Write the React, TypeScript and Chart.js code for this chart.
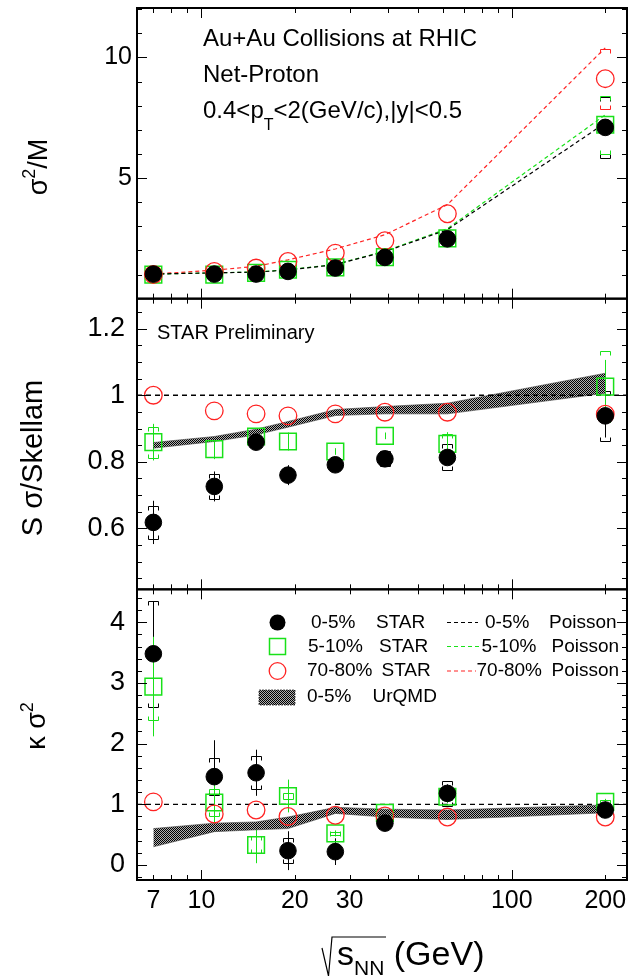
import React, { useEffect, useRef } from 'react';
import { Chart, registerables } from 'chart.js';

Chart.register(...registerables);

const FONT = '"Liberation Sans", Arial, Helvetica, sans-serif';
const BLACK = '#000000';
const GREEN = 'rgb(25,225,25)';
const RED = 'rgb(255,35,35)';

// ---------- x axis (sqrt(s_NN), GeV) ----------
const energies = [7, 11, 15, 19, 27, 39, 62, 200];
const xMin = 6.2;
const xMax = 235;
const xTickMarks = [7, 8, 9, 10, 20, 30, 40, 50, 60, 70, 80, 90, 100, 200];
const xMajorMarks = [10, 100];
const xTickLabels = [7, 10, 20, 30, 100, 200];

// ---------- panel 1 : sigma^2/M ----------
const y1Min = 0;
const y1Max = 12.05;
const y1TickMarks = [1, 2, 3, 4, 5, 6, 7, 8, 9, 10, 11, 12];
const y1TickLabels = [5, 10];
const varM_0_5 = [1.02, 1.02, 1.02, 1.13, 1.27, 1.71, 2.48, 7.1];
const varM_5_10 = [1.0, 1.0, 1.07, 1.2, 1.3, 1.72, 2.5, 7.21];
const varM_70_80 = [1.0, 1.13, 1.27, 1.54, 1.89, 2.4, 3.52, 9.12];
const varM_0_5_sys = [0, 0, 0, 0, 0, 0, 0, 1.27];
const varM_5_10_sys = [0, 0, 0, 0, 0, 0, 0, 1.2];
const varM_70_80_sys = [0, 0, 0, 0, 0, 0, 0, 1.25];
const poissonM_0_5 = [1.02, 1.07, 1.1, 1.19, 1.41, 1.95, 2.86, 7.28];
const poissonM_5_10 = [1.02, 1.07, 1.11, 1.2, 1.42, 1.97, 2.9, 7.62];
const poissonM_70_80 = [1.02, 1.18, 1.34, 1.61, 2.06, 2.65, 3.9, 10.4];

// ---------- panel 2 : S sigma / Skellam ----------
const y2Min = 0.417;
const y2Max = 1.29;
const y2TickMarks = [0.45, 0.5, 0.55, 0.6, 0.65, 0.7, 0.75, 0.8, 0.85, 0.9, 0.95, 1, 1.05, 1.1, 1.15, 1.2, 1.25];
const y2TickLabels = [0.6, 0.8, 1, 1.2];
const skellamRef = 1;
const sS_0_5 = [0.618, 0.726, 0.859, 0.76, 0.791, 0.809, 0.813, 0.938];
const sS_0_5_stat = [0.065, 0.045, 0.022, 0.03, 0.012, 0.012, 0.015, 0.065];
const sS_0_5_sys = [0.05, 0.037, 0.015, 0.01, 0.01, 0.022, 0.039, 0.075];
const sS_5_10 = [0.859, 0.838, 0.876, 0.861, 0.831, 0.878, 0.854, 1.026];
const sS_5_10_stat = [0.055, 0.03, 0.024, 0.027, 0.01, 0.01, 0.035, 0.08];
const sS_5_10_sys = [0.047, 0, 0.02, 0, 0, 0, 0.03, 0.107];
const sS_70_80 = [1.0, 0.953, 0.944, 0.938, 0.944, 0.949, 0.949, 0.943];
const urqmdS_low = [0.841, 0.861, 0.881, 0.904, 0.939, 0.944, 0.944, 1.006];
const urqmdS_high = [0.858, 0.876, 0.898, 0.921, 0.957, 0.966, 0.976, 1.066];

// ---------- panel 3 : kappa sigma^2 ----------
const y3Min = -0.247;
const y3Max = 4.542;
const y3TickMarks = [-0.2, 0, 0.2, 0.4, 0.6, 0.8, 1, 1.2, 1.4, 1.6, 1.8, 2, 2.2, 2.4, 2.6, 2.8, 3, 3.2, 3.4, 3.6, 3.8, 4, 4.2, 4.4];
const y3TickLabels = [0, 1, 2, 3, 4];
const poissonRef = 1;
const kS_0_5 = [3.48, 1.456, 1.52, 0.236, 0.22, 0.69, 1.18, 0.906];
const kS_0_5_stat = [0.87, 0.6, 0.38, 0.32, 0.22, 0.08, 0.15, 0.05];
const kS_0_5_sys = [0.87, 0.3, 0.27, 0.21, 0.05, 0.05, 0.2, 0.05];
const kS_5_10 = [2.94, 1.03, 0.33, 1.137, 0.52, 0.86, 1.125, 1.04];
const kS_5_10_stat = [0.82, 0.48, 0.3, 0.27, 0.05, 0.05, 0.1, 0.05];
const kS_5_10_sys = [0.55, 0.23, 0.14, 0.05, 0.03, 0.03, 0.05, 0.03];
const kS_70_80 = [1.04, 0.84, 0.906, 0.8, 0.82, 0.81, 0.79, 0.79];
const urqmdK_low = [0.3, 0.55, 0.58, 0.6, 0.85, 0.79, 0.75, 0.86];
const urqmdK_high = [0.6, 0.69, 0.71, 0.79, 0.95, 0.92, 0.906, 0.99];

const pts = (ys: number[]) => energies.map((x, i) => ({ x, y: ys[i] }));

type Part = { t: string; size: number; rise?: number };

function drawRich(ctx: CanvasRenderingContext2D, parts: Part[], x: number, y: number, rotate: boolean, align: 'left' | 'center') {
  ctx.save();
  ctx.translate(x, y);
  if (rotate) ctx.rotate(-Math.PI / 2);
  ctx.textAlign = 'left';
  ctx.textBaseline = 'alphabetic';
  ctx.fillStyle = BLACK;
  let total = 0;
  for (const p of parts) {
    ctx.font = `${p.size}px ${FONT}`;
    total += ctx.measureText(p.t).width;
  }
  let cx = align === 'center' ? -total / 2 : 0;
  for (const p of parts) {
    ctx.font = `${p.size}px ${FONT}`;
    ctx.fillText(p.t, cx, -(p.rise || 0));
    cx += ctx.measureText(p.t).width;
  }
  ctx.restore();
}

export default function App() {
  const ref = useRef<HTMLCanvasElement>(null);

  useEffect(() => {
    document.body.style.margin = '0';
    const canvas = ref.current!;

    // hatch pattern for UrQMD band
    const pc = document.createElement('canvas');
    pc.width = 2;
    pc.height = 2;
    const pg = pc.getContext('2d')!;
    pg.fillStyle = '#b0b0b0';
    pg.fillRect(0, 0, 2, 2);
    pg.fillStyle = '#000000';
    pg.fillRect(0, 0, 1, 1);
    pg.fillRect(1, 1, 1, 1);
    const pattern = canvas.getContext('2d')!.createPattern(pc, 'repeat')!;

    const errorSets = [
      { axis: 'y1', v: varM_0_5, stat: null, sys: varM_0_5_sys, color: BLACK },
      { axis: 'y1', v: varM_5_10, stat: null, sys: varM_5_10_sys, color: GREEN },
      { axis: 'y1', v: varM_70_80, stat: null, sys: varM_70_80_sys, color: RED },
      { axis: 'y2', v: sS_0_5, stat: sS_0_5_stat, sys: sS_0_5_sys, color: BLACK },
      { axis: 'y2', v: sS_5_10, stat: sS_5_10_stat, sys: sS_5_10_sys, color: GREEN },
      { axis: 'y3', v: kS_0_5, stat: kS_0_5_stat, sys: kS_0_5_sys, color: BLACK },
      { axis: 'y3', v: kS_5_10, stat: kS_5_10_stat, sys: kS_5_10_sys, color: GREEN },
    ];

    const panels = [
      { id: 'y1', marks: y1TickMarks, major: y1TickLabels },
      { id: 'y2', marks: y2TickMarks, major: y2TickLabels },
      { id: 'y3', marks: y3TickMarks, major: y3TickLabels },
    ];

    const decor = {
      id: 'decor',
      beforeDatasetsDraw(chart: any) {
        const ctx: CanvasRenderingContext2D = chart.ctx;
        const xs = chart.scales.x;
        ctx.save();
        ctx.lineWidth = 1;
        for (const es of errorSets) {
          const ys = chart.scales[es.axis];
          es.v.forEach((val: number, i: number) => {
            const px = Math.round(xs.getPixelForValue(energies[i])) + 0.5;
            ctx.strokeStyle = es.color;
            if (es.stat && es.stat[i] > 0) {
              ctx.beginPath();
              ctx.moveTo(px, ys.getPixelForValue(val + es.stat[i]));
              ctx.lineTo(px, ys.getPixelForValue(val - es.stat[i]));
              ctx.stroke();
            }
            if (es.sys && es.sys[i] > 0) {
              const top = Math.round(ys.getPixelForValue(val + es.sys[i])) + 0.5;
              const bot = Math.round(ys.getPixelForValue(val - es.sys[i])) + 0.5;
              const hw = 5;
              const d = 4;
              ctx.beginPath();
              ctx.moveTo(px - hw, top + d);
              ctx.lineTo(px - hw, top);
              ctx.lineTo(px + hw, top);
              ctx.lineTo(px + hw, top + d);
              ctx.moveTo(px - hw, bot - d);
              ctx.lineTo(px - hw, bot);
              ctx.lineTo(px + hw, bot);
              ctx.lineTo(px + hw, bot - d);
              ctx.stroke();
            }
          });
        }
        ctx.restore();
      },
      afterDraw(chart: any) {
        const ctx: CanvasRenderingContext2D = chart.ctx;
        const area = chart.chartArea;
        const xs = chart.scales.x;
        ctx.save();
        // ticks
        ctx.strokeStyle = BLACK;
        ctx.lineWidth = 1;
        for (const p of panels) {
          const s = chart.scales[p.id];
          ctx.beginPath();
          for (const v of p.marks) {
            const py = Math.round(s.getPixelForValue(v)) + 0.5;
            const len = p.major.includes(v) ? 10 : 5;
            ctx.moveTo(area.left, py);
            ctx.lineTo(area.left + len, py);
            ctx.moveTo(area.right, py);
            ctx.lineTo(area.right - len, py);
          }
          for (const v of xTickMarks) {
            const px = Math.round(xs.getPixelForValue(v)) + 0.5;
            const len = xMajorMarks.includes(v) ? 10 : 5;
            ctx.moveTo(px, s.top);
            ctx.lineTo(px, s.top + len);
            ctx.moveTo(px, s.bottom);
            ctx.lineTo(px, s.bottom - len);
          }
          ctx.stroke();
        }
        // frames
        ctx.lineWidth = 2;
        for (const p of panels) {
          const s = chart.scales[p.id];
          ctx.strokeRect(area.left, s.top, area.right - area.left, s.bottom - s.top);
        }
        ctx.restore();

        // axis titles
        drawRich(ctx, [{ t: 'σ', size: 27 }, { t: '2', size: 18, rise: 12 }, { t: '/M', size: 27 }], 47, 167, true, 'center');
        drawRich(ctx, [{ t: 'S σ/Skellam', size: 29 }], 42, 458, true, 'center');
        drawRich(ctx, [{ t: 'κ σ', size: 27 }, { t: '2', size: 18, rise: 12 }], 45, 726, true, 'center');

        // x title with radical
        ctx.save();
        ctx.strokeStyle = BLACK;
        ctx.lineWidth = 1.2;
        ctx.beginPath();
        ctx.moveTo(322, 948);
        ctx.lineTo(328.5, 976);
        ctx.lineTo(332, 937);
        ctx.lineTo(386, 937);
        ctx.stroke();
        ctx.restore();
        drawRich(ctx, [{ t: 's', size: 34 }, { t: 'NN', size: 21, rise: -10 }, { t: ' (GeV)', size: 34 }], 337, 965, false, 'left');

        // annotations in top panels
        drawRich(ctx, [{ t: 'Au+Au Collisions at RHIC', size: 24 }], 203, 46, false, 'left');
        drawRich(ctx, [{ t: 'Net-Proton', size: 24 }], 203, 82, false, 'left');
        drawRich(ctx, [{ t: '0.4<p', size: 24 }, { t: 'T', size: 16, rise: -12 }, { t: '<2(GeV/c),|y|<0.5', size: 24 }], 203, 118, false, 'left');
        drawRich(ctx, [{ t: 'STAR Preliminary', size: 20 }], 157, 339, false, 'left');

        // legend
        ctx.save();
        ctx.font = `19px ${FONT}`;
        ctx.textBaseline = 'middle';
        ctx.textAlign = 'left';
        ctx.fillStyle = BLACK;
        const mx = 277.5;
        // row 1
        ctx.beginPath();
        ctx.arc(mx, 622.5, 8, 0, Math.PI * 2);
        ctx.fill();
        ctx.fillText('0-5%', 311, 623);
        ctx.fillText('STAR', 376, 623);
        ctx.fillText('0-5%', 485, 623);
        ctx.fillText('Poisson', 549, 623);
        // row 2
        ctx.strokeStyle = GREEN;
        ctx.lineWidth = 1.5;
        ctx.strokeRect(mx - 8, 646.5 - 8, 16, 16);
        ctx.fillText('5-10%', 308, 646.5);
        ctx.fillText('STAR', 379, 646.5);
        ctx.fillText('5-10%', 481.5, 646.5);
        ctx.fillText('Poisson', 551.5, 646.5);
        // row 3
        ctx.strokeStyle = RED;
        ctx.lineWidth = 1.3;
        ctx.beginPath();
        ctx.arc(mx, 671, 8.3, 0, Math.PI * 2);
        ctx.stroke();
        ctx.fillText('70-80%', 307, 671);
        ctx.fillText('STAR', 381.5, 671);
        ctx.fillText('70-80%', 476.5, 671);
        ctx.fillText('Poisson', 551.5, 671);
        // row 4
        ctx.fillStyle = pattern;
        ctx.fillRect(259, 690, 36, 15);
        ctx.strokeStyle = '#333';
        ctx.lineWidth = 0.8;
        ctx.setLineDash([2, 1]);
        ctx.strokeRect(259, 690, 36, 15);
        ctx.setLineDash([]);
        ctx.fillStyle = BLACK;
        ctx.fillText('0-5%', 307, 697);
        ctx.fillText('UrQMD', 372.5, 697);
        // dashed samples
        const dashRow = (y: number, c: string, x2: number) => {
          ctx.strokeStyle = c;
          ctx.lineWidth = 1.2;
          ctx.setLineDash([4, 3]);
          ctx.beginPath();
          ctx.moveTo(447, y);
          ctx.lineTo(x2, y);
          ctx.stroke();
        };
        dashRow(622.5, BLACK, 478);
        dashRow(646.5, GREEN, 481);
        dashRow(671, RED, 476);
        ctx.restore();
      },
    };

    const marker = (axis: string, ys: number[], kind: string) => {
      if (kind === 'black') {
        return { data: pts(ys), yAxisID: axis, showLine: false, pointStyle: 'circle', pointRadius: 8.3, pointBackgroundColor: BLACK, pointBorderColor: BLACK, pointBorderWidth: 1, order: 1 };
      }
      if (kind === 'green') {
        return { data: pts(ys), yAxisID: axis, showLine: false, pointStyle: 'rect', pointRadius: 11.8, pointBackgroundColor: 'rgba(0,0,0,0)', pointBorderColor: GREEN, pointBorderWidth: 1.5, order: 3 };
      }
      return { data: pts(ys), yAxisID: axis, showLine: false, pointStyle: 'circle', pointRadius: 8.8, pointBackgroundColor: 'rgba(0,0,0,0)', pointBorderColor: RED, pointBorderWidth: 1.3, order: 2 };
    };
    const dashed = (axis: string, data: any[], color: string, width: number, dash: number[]) => ({
      data, yAxisID: axis, borderColor: color, borderWidth: width, borderDash: dash, pointRadius: 0, fill: false, tension: 0, order: 5,
    });

    const datasets: any[] = [
      // panel 1
      dashed('y1', pts(poissonM_0_5), BLACK, 1.2, [4, 3]),
      dashed('y1', pts(poissonM_5_10), GREEN, 1.2, [4, 3]),
      dashed('y1', pts(poissonM_70_80), RED, 1.2, [4, 3]),
      marker('y1', varM_5_10, 'green'),
      marker('y1', varM_0_5, 'black'),
      marker('y1', varM_70_80, 'red'),
      // panel 2
      dashed('y2', [{ x: xMin, y: skellamRef }, { x: xMax, y: skellamRef }], BLACK, 1.6, [5, 4]),
      { data: pts(urqmdS_low), yAxisID: 'y2', borderColor: '#444', borderWidth: 0.6, pointRadius: 0, fill: false, tension: 0, order: 6 },
      { data: pts(urqmdS_high), yAxisID: 'y2', borderColor: '#444', borderWidth: 0.6, pointRadius: 0, fill: '-1', backgroundColor: pattern, tension: 0, order: 6 },
      marker('y2', sS_5_10, 'green'),
      marker('y2', sS_0_5, 'black'),
      marker('y2', sS_70_80, 'red'),
      // panel 3
      dashed('y3', [{ x: xMin, y: poissonRef }, { x: xMax, y: poissonRef }], BLACK, 1.2, [5, 4]),
      { data: pts(urqmdK_low), yAxisID: 'y3', borderColor: '#444', borderWidth: 0.6, pointRadius: 0, fill: false, tension: 0, order: 6 },
      { data: pts(urqmdK_high), yAxisID: 'y3', borderColor: '#444', borderWidth: 0.6, pointRadius: 0, fill: '-1', backgroundColor: pattern, tension: 0, order: 6 },
      marker('y3', kS_5_10, 'green'),
      marker('y3', kS_0_5, 'black'),
      marker('y3', kS_70_80, 'red'),
    ];

    const yAxis = (min: number, max: number, labels: number[], weight: number, size: number, padding: number) => ({
      type: 'linear',
      position: 'left',
      stack: 'panels',
      stackWeight: 1,
      weight,
      min,
      max,
      afterBuildTicks: (s: any) => {
        s.ticks = labels.map((v) => ({ value: v }));
      },
      afterFit: (s: any) => {
        s.width = 137;
        s.paddingTop = 0;
        s.paddingBottom = 0;
        s.paddingLeft = 0;
        s.paddingRight = 0;
      },
      grid: { display: false, drawTicks: false },
      border: { display: false },
      ticks: { padding, color: BLACK, font: { family: FONT, size }, callback: (v: any) => String(v) },
    });

    const chart = new Chart(canvas, {
      type: 'line',
      data: { datasets },
      options: {
        responsive: false,
        animation: false,
        devicePixelRatio: 1,
        layout: { autoPadding: false, padding: { top: 8, right: 4, left: 0, bottom: 0 } },
        plugins: { legend: { display: false }, tooltip: { enabled: false }, title: { display: false } },
        scales: {
          x: {
            type: 'logarithmic',
            position: 'bottom',
            min: xMin,
            max: xMax,
            afterBuildTicks: (s: any) => {
              s.ticks = xTickLabels.map((v) => ({ value: v }));
            },
            afterFit: (s: any) => {
              s.height = 96;
              s.paddingTop = 0;
              s.paddingBottom = 0;
              s.paddingLeft = 0;
              s.paddingRight = 0;
            },
            grid: { display: false, drawTicks: false },
            border: { display: false },
            ticks: { autoSkip: false, maxRotation: 0, minRotation: 0, padding: 6, color: BLACK, font: { family: FONT, size: 25 }, callback: (v: any) => String(v) },
          },
          y1: yAxis(y1Min, y1Max, y1TickLabels, 3, 25, 5),
          y2: yAxis(y2Min, y2Max, y2TickLabels, 2, 27, 12),
          y3: yAxis(y3Min, y3Max, y3TickLabels, 1, 27, 12),
        } as any,
      },
      plugins: [decor],
    } as any);

    return () => chart.destroy();
  }, []);

  return (
    <div style={{ position: 'absolute', left: 0, top: 0, width: 631, height: 976, background: '#fff' }}>
      <canvas ref={ref} width={631} height={976} style={{ display: 'block', width: 631, height: 976 }} />
    </div>
  );
}
